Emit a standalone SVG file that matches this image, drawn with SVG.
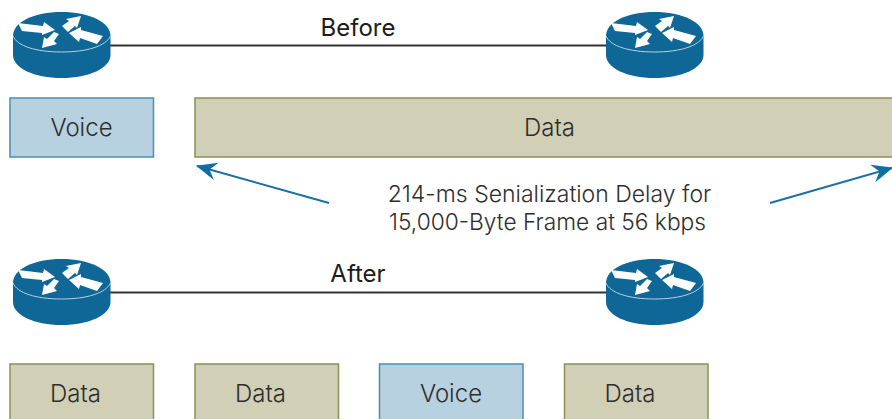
<svg xmlns="http://www.w3.org/2000/svg" width="892" height="419" viewBox="0 0 892 419">
<style>
text{font-family:"Inter","Liberation Sans",sans-serif;fill:#2e2e2e;font-weight:300;text-anchor:middle}
.l{font-size:24px}.s{font-size:23px}
.h{font-size:24px;font-weight:400;fill:#1c1c1c}
.v{fill:#b7d1e0;stroke:#4a8db5;stroke-width:1.5}
.d{fill:#d1cfb6;stroke:#8f8f56;stroke-width:1.5}
.c{stroke:#333;stroke-width:2;fill:none}
.a{stroke:#1a70a3;stroke-width:2;fill:none}
.b{fill:#0f6797}
.t{fill:none;stroke:#b6d0e0;stroke-width:1}
.w{fill:#fff}
</style>
<defs>
<marker id="h" markerUnits="userSpaceOnUse" markerWidth="24" markerHeight="20" refX="20" refY="10" orient="auto"><path d="M0,1 L21,10 L0,19 L7,10Z" fill="#0f6fa5"/></marker>
<g id="r">
<path class="b" d="M13,36C13,22 34,12 61.500,12C89,12 110.500,22 110.500,36V55C110.500,68 89,78 61.500,78C34,78 13,68 13,55Z"/>
<path class="t" d="M13,36C17,46 36,52 61.500,52C87,52 106,46 110.500,36"/>
<path class="w" d="M18,23L43,26L44,22L55,30L42,35L42,33L22,31Z"/>
<path class="w" d="M62,26L69,21L66,19L81,16L77,28L75,26L68,32Z"/>
<path class="w" d="M103,36L81,30L81,27L69,33L79,42L80,38L97,44Z"/>
<path class="w" d="M59,34L54,41L57,44L42,48L44,37L47,39L54,32Z"/>
</g>
</defs>
<g id="connectors">
<path class="c" d="M110,45.500H606"/>
<path class="c" d="M110,292.500H606"/>
<path class="a" d="M329,203L197,166" marker-end="url(#h)"/>
<path class="a" d="M770,203L892,168" marker-end="url(#h)"/>
</g>
<g id="router-before-left"><use href="#r"/></g>
<g id="router-before-right"><use href="#r" x="593"/></g>
<g id="router-after-left"><use href="#r" y="247"/></g>
<g id="router-after-right"><use href="#r" x="593" y="247"/></g>
<g id="label-before"><text class="h" x="358" y="36">Before</text></g>
<g id="label-after"><text class="h" x="358" y="282">After</text></g>
<g id="voice-before"><rect class="v" x="10" y="98" width="143.500" height="59"/><text class="l" x="81.500" y="136">Voice</text></g>
<g id="data-before"><rect class="d" x="195" y="98" width="700" height="59"/><text class="l" x="549.500" y="136">Data</text></g>
<g id="delay-label"><text class="s" x="549.500" y="202">214-ms Senialization Delay for</text><text class="s" x="547.500" y="230" textLength="317" lengthAdjust="spacingAndGlyphs">15,000-Byte Frame at 56 kbps</text></g>
<g id="data-after-1"><rect class="d" x="10" y="364" width="143.500" height="60"/><text class="l" x="75.500" y="402">Data</text></g>
<g id="data-after-2"><rect class="d" x="195" y="364" width="143.500" height="60"/><text class="l" x="260.500" y="402">Data</text></g>
<g id="voice-after"><rect class="v" x="379.500" y="364" width="143.500" height="60"/><text class="l" x="451" y="402">Voice</text></g>
<g id="data-after-3"><rect class="d" x="564.500" y="364" width="143.500" height="60"/><text class="l" x="630" y="402">Data</text></g>
</svg>
